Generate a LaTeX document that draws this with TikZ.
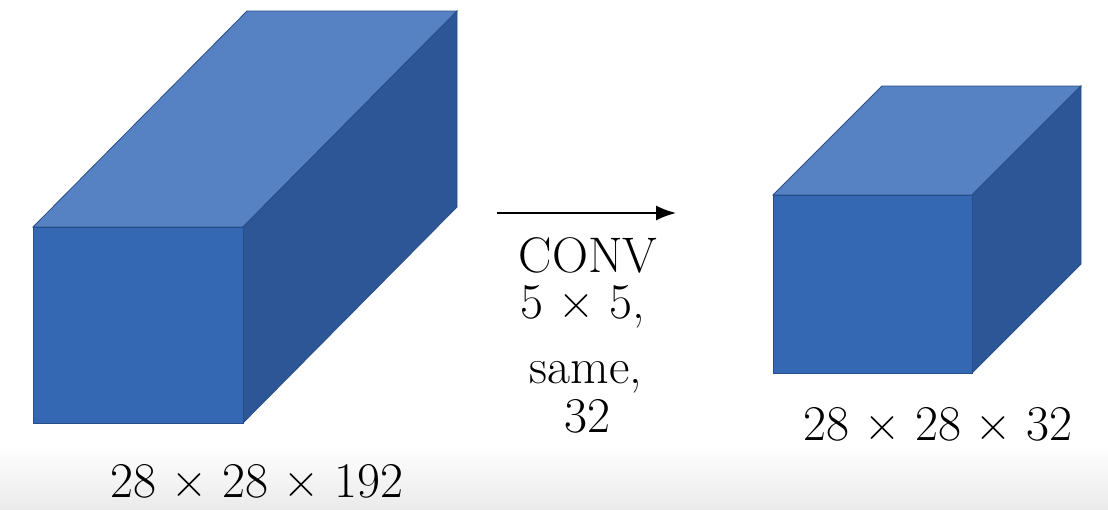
\documentclass[tikz,border=0pt]{standalone}
\usepackage{tikz}
\usetikzlibrary{arrows.meta}
\definecolor{frontblue}{RGB}{52,104,179}
\definecolor{topblue}{RGB}{86,130,195}
\definecolor{sideblue}{RGB}{44,86,149}
\definecolor{edgeblue}{RGB}{40,78,138}
\newcommand{\dimx}{\hspace{0.3em}×\hspace{0.3em}}

\begin{document}
\begin{tikzpicture}[x=1pt, y=-1pt,
		front/.style={fill=frontblue, draw=edgeblue, line width=0.8pt},
		top/.style={fill=topblue, draw=edgeblue, line width=0.8pt},
		side/.style={fill=sideblue, draw=edgeblue, line width=0.8pt},
		dims/.style={anchor=base, inner sep=0pt, font=\fontsize{50}{60}\selectfont}]
		%%%%% START %%%%%
		
		\useasboundingbox (0, 0) rectangle (1108, 509);
		\shade[top color=white, bottom color=black!8] (0, 445) rectangle (1108, 509);
		
		% input volume
		\draw[top] (33, 227) -- (247, 11) -- (457, 11) -- (243, 227) -- cycle;
		\draw[side] (243, 227) -- (457, 11) -- (457, 207) -- (243, 423) -- cycle;
		\draw[front] (33, 227) rectangle (243, 423);
		\node[dims] (insize) at (257, 497) {28\dimx 28\dimx 192};
		
		% output volume
		\draw[top] (773, 195) -- (882, 86) -- (1081, 86) -- (972, 195) -- cycle;
		\draw[side] (972, 195) -- (1081, 86) -- (1081, 264) -- (972, 373) -- cycle;
		\draw[front] (773, 195) rectangle (972, 373);
		\node[dims] (outsize) at (938, 440) {28\dimx 28\dimx 32};
		
		% the layer between them
		\coordinate (arrowstart) at (497, 213);
		\coordinate (arrowend) at (676, 213);
		\draw[line width=1.6pt, -{Latex[length=20pt, width=15pt]}] (arrowstart) -- (arrowend);
		
		\node[dims] (convname) at (588, 272) {CONV};
		\node[dims] (convfilter) at (583, 318) {5\dimx 5,};
		\node[dims] (convpad) at (586, 383) {same,};
		\node[dims] (convnum) at (587, 432) {32};
		
		%%%%% END %%%%%
	\end{tikzpicture}
\end{document}
